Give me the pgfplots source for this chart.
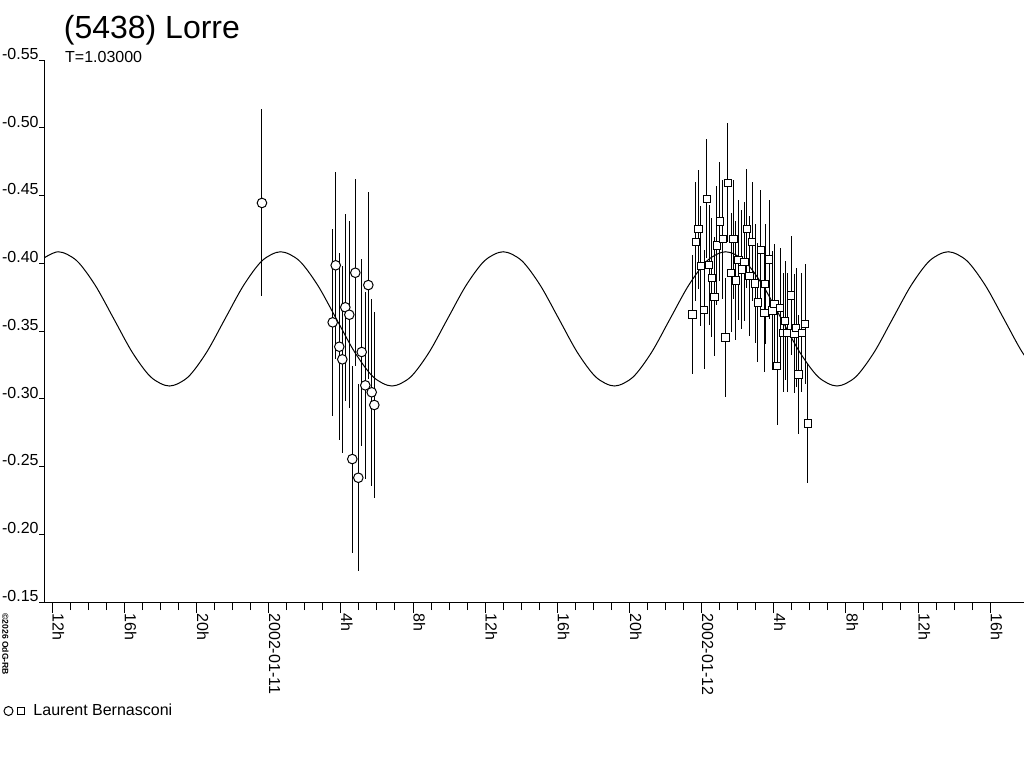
\documentclass[border=0pt]{standalone}
\usepackage{fontspec}
\setmainfont{Liberation Sans}
\usepackage{pgfplots}
\pgfplotsset{compat=1.18}
\usepackage{pgfplotstable}

\pgfplotstableread{
t v e
-0.373 -0.4445 0.069
3.548 -0.3564 0.069
3.715 -0.3985 0.069
3.914 -0.3384 0.069
4.081 -0.3291 0.069
4.247 -0.3675 0.069
4.469 -0.3620 0.069
4.635 -0.2555 0.069
4.802 -0.3930 0.069
4.968 -0.2417 0.069
5.157 -0.3345 0.069
5.356 -0.3099 0.069
5.523 -0.3839 0.069
5.711 -0.3048 0.069
5.855 -0.2954 0.069
}\circles

\pgfplotstableread{
t v e
23.487 -0.3623 0.044
23.675 -0.4159 0.044
23.820 -0.4251 0.044
23.953 -0.3980 0.044
24.136 -0.3657 0.044
24.285 -0.4476 0.044
24.413 -0.3987 0.044
24.563 -0.3893 0.044
24.707 -0.3753 0.044
24.840 -0.4130 0.044
25.006 -0.4307 0.044
25.173 -0.4177 0.044
25.317 -0.3451 0.044
25.450 -0.4594 0.044
25.633 -0.3930 0.044
25.761 -0.4177 0.044
25.894 -0.3874 0.044
26.038 -0.4024 0.044
26.227 -0.3955 0.044
26.371 -0.4011 0.044
26.504 -0.4255 0.044
26.648 -0.3906 0.044
26.798 -0.4159 0.044
26.964 -0.3852 0.044
27.114 -0.3709 0.044
27.280 -0.4098 0.044
27.480 -0.3635 0.044
27.519 -0.3847 0.044
27.740 -0.4029 0.044
27.924 -0.3650 0.044
28.035 -0.3699 0.044
28.184 -0.3244 0.044
28.351 -0.3672 0.044
28.534 -0.3487 0.044
28.628 -0.3576 0.044
28.756 -0.3487 0.044
28.961 -0.3761 0.044
29.144 -0.3483 0.044
29.238 -0.3524 0.044
29.366 -0.3178 0.044
29.554 -0.3487 0.044
29.737 -0.3552 0.044
29.887 -0.2816 0.044
}\squares

\pgfplotstableread{
t v
-12.698 -0.4019
-11.670 -0.4085
-10.642 -0.4019
-9.614 -0.3837
-8.586 -0.3590
-7.558 -0.3342
-6.530 -0.3160
-5.502 -0.3094
-4.474 -0.3160
-3.446 -0.3342
-2.419 -0.3590
-1.391 -0.3837
-0.363 -0.4019
0.665 -0.4085
1.693 -0.4019
2.721 -0.3837
3.749 -0.3590
4.777 -0.3342
5.805 -0.3160
6.833 -0.3094
7.861 -0.3160
8.888 -0.3342
9.916 -0.3590
10.944 -0.3837
11.972 -0.4019
13.000 -0.4085
14.028 -0.4019
15.056 -0.3837
16.084 -0.3590
17.112 -0.3342
18.140 -0.3160
19.167 -0.3094
20.195 -0.3160
21.223 -0.3342
22.251 -0.3590
23.279 -0.3837
24.307 -0.4019
25.335 -0.4085
26.363 -0.4019
27.391 -0.3837
28.419 -0.3590
29.446 -0.3342
30.474 -0.3160
31.502 -0.3094
32.530 -0.3160
33.558 -0.3342
34.586 -0.3590
35.614 -0.3837
36.642 -0.4019
37.670 -0.4085
38.698 -0.4019
39.725 -0.3837
40.753 -0.3590
41.781 -0.3342
42.809 -0.3160
}\fitcurve

\begin{document}
\begin{tikzpicture}
\useasboundingbox (0,0) rectangle (512pt,384pt);
\begin{axis}[
  at={(22.5pt,83pt)}, anchor=south west,
  scale only axis, width=489.5pt, height=271pt,
  xmin=-12.40, xmax=41.87, ymin=-0.55, ymax=-0.15, y dir=reverse,
  axis x line=bottom, axis y line=none,
  axis line style={-, black, line width=0.5pt},
  xtick={-12,-8,-4,0,4,8,12,16,20,24,28,32,36,40},
  xticklabels={12h,16h,20h,2002-01-11,4h,8h,12h,16h,20h,2002-01-12,4h,8h,12h,16h},
  minor x tick num=3,
  tick align=outside, major tick length=5.5pt, minor tick length=4pt,
  tick style={black, line width=0.5pt},
  xticklabel style={rotate=-90, anchor=south west, inner sep=0pt, font=\fontsize{8}{9.6}\selectfont},
  legend style={at={(axis description cs:-0.0424,-0.2011)}, anchor=west, draw=none, fill=none,
    inner sep=0pt, outer sep=0pt, font=\fontsize{8}{9.6}\selectfont, column sep=4pt,
    nodes={inner sep=0pt}},
  legend cell align=left,
]
\addlegendimage{legend image code/.code={
  \draw[line width=0.5pt] (2.25pt,0pt) circle (2.25pt);
  \draw[line width=0.5pt] (7pt,-1.75pt) rectangle (10.5pt,1.75pt);}}
\addlegendentry{Laurent Bernasconi}
\addplot[black, line width=0.5pt, smooth, mark=none, forget plot] table[x=t, y=v] {\fitcurve};
\addplot[draw=none, mark=none, forget plot,
  error bars/.cd, y dir=both, y explicit, error mark=none,
  error bar style={draw=black, line width=0.5pt}] table[x=t, y=v, y error=e] {\circles};
\addplot[draw=none, mark=none, forget plot,
  error bars/.cd, y dir=both, y explicit, error mark=none,
  error bar style={draw=black, line width=0.5pt}] table[x=t, y=v, y error=e] {\squares};
\addplot[only marks, mark=*, mark size=2.4pt, mark options={draw=black, fill=white, line width=0.5pt}, forget plot]
  table[x=t, y=v] {\circles};
\addplot[only marks, mark=square*, mark size=1.85pt, mark options={draw=black, fill=white, line width=0.5pt}, forget plot]
  table[x=t, y=v] {\squares};
\end{axis}
\begin{axis}[
  at={(22.5pt,83pt)}, anchor=south west,
  scale only axis, width=489.5pt, height=271pt,
  xmin=-12.40, xmax=41.87, ymin=-0.55, ymax=-0.15, y dir=reverse,
  axis x line=none, axis y line=left,
  axis line style={-, black, line width=0.5pt},
  ytick={-0.55,-0.5,-0.45,-0.4,-0.35,-0.3,-0.25,-0.2,-0.15},
  yticklabels={-0.55,-0.50,-0.45,-0.40,-0.35,-0.30,-0.25,-0.20,-0.15},
  tick align=outside, major tick length=3pt,
  tick style={black, line width=0.5pt},
  yticklabel style={anchor=south east, inner sep=0pt, font=\fontsize{8}{9.6}\selectfont},
]
\end{axis}
\node[anchor=base west, inner sep=0pt, font=\fontsize{16}{19}\selectfont] at (31.75pt,364.85pt) {(5438) Lorre};
\node[anchor=base west, inner sep=0pt, font=\fontsize{8}{9.6}\selectfont] at (32.4pt,352.85pt) {T=1.03000};
\node[rotate=-90, anchor=south west, inner sep=0pt, font=\fontsize{4.3}{5}\selectfont\bfseries] at (1pt,77.5pt) {©2026 OdG-RB};
\end{tikzpicture}
\end{document}
